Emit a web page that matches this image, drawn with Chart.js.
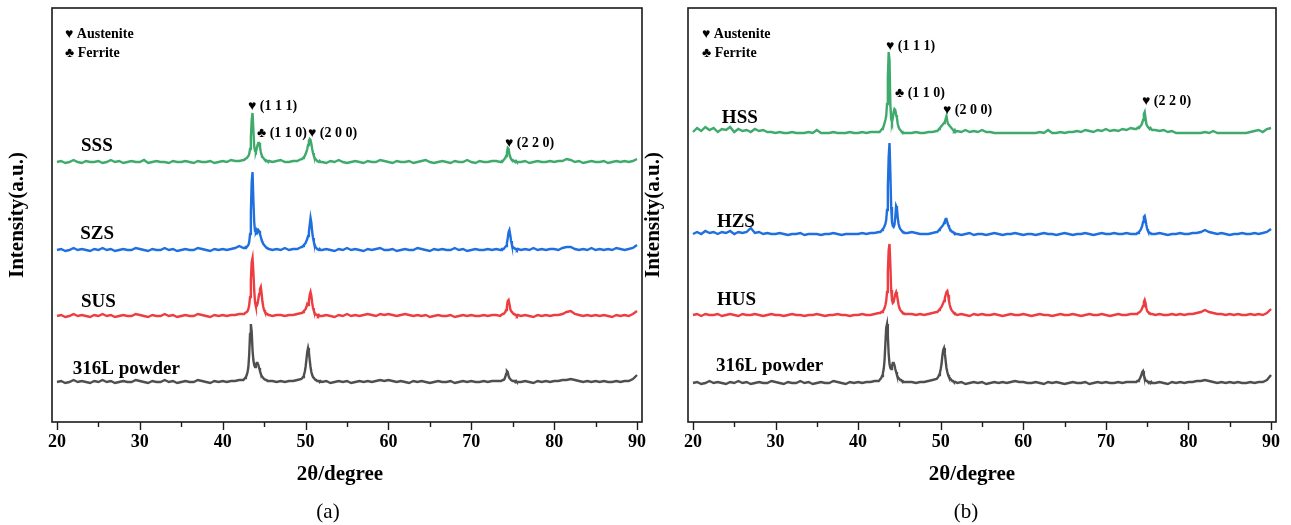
<!DOCTYPE html>
<html><head><meta charset="utf-8">
<script src="https://cdn.jsdelivr.net/npm/chart.js@4.4.1/dist/chart.umd.min.js"></script>
<style>
html,body{margin:0;padding:0;background:#fff;}
#wrap{position:relative;width:1291px;height:525px;overflow:hidden;background:#fff;}
canvas{position:absolute;top:0;}
#ca{left:0;}
#cb{left:636px;}
</style></head><body>
<div id="wrap"><canvas id="ca" width="660" height="525"></canvas><canvas id="cb" width="655" height="525"></canvas></div>
<script>
// 2θ sampling positions (degrees)
const twoTheta = [
20,20.5,21,21.5,22,22.5,23,23.5,24,24.5,25,25.5,26,26.5,27,27.5,28,28.5,29,29.5,30,30.5,31,31.5,32,32.5,33,33.5,34,34.5,35,35.5,36,36.5,37,37.5,38,38.5,39,39.5,40,40.5,41,41.5,42,42.5,
42.6,42.7,42.8,42.9,43.0,43.1,43.2,43.3,43.4,43.5,43.6,43.7,43.8,43.9,44.0,44.1,44.2,44.3,44.4,44.5,44.6,44.7,44.8,44.9,45.0,45.1,45.2,45.3,45.4,45.5,45.6,
46,46.5,47,47.5,48,48.5,49,49.5,
49.6,49.7,49.8,49.9,50.0,50.1,50.2,50.3,50.4,50.5,50.6,50.7,50.8,50.9,51.0,51.1,51.2,51.3,51.4,51.5,51.6,51.7,51.8,
52,52.5,53,53.5,54,54.5,55,55.5,56,56.5,57,57.5,58,58.5,59,59.5,60,60.5,61,61.5,62,62.5,63,63.5,64,64.5,65,65.5,66,66.5,67,67.5,68,68.5,69,69.5,70,70.5,71,71.5,72,72.5,73,73.5,
73.6,73.7,73.8,73.9,74.0,74.1,74.2,74.3,74.4,74.5,74.6,74.7,74.8,74.9,75.0,75.1,75.2,75.3,75.4,75.5,75.6,
76,76.5,77,77.5,78,78.5,79,79.5,80,80.5,81,81.5,82,82.5,83,83.5,84,84.5,85,85.5,86,86.5,87,87.5,88,88.5,89,89.5,90
];
const xTicks = [20,25,30,35,40,45,50,55,60,65,70,75,80,85,90];

// ---- panel (a): stacked intensities (a.u.) ----
const sss = [
260,261,259,260,262,260,259,261,260,260,261,259,260,262,260,261,259,260,261,260,260,262,259,260,261,260,260,259,261,260,260,261,260,259,261,260,260,261,259,260,261,260,262,261,261,262,
262,263,263,264,265,266,268,273,285,302,309,292,276,271,270,273,277,279,279,275,270,267,265,264,263,262,262,261,261,260,261,
260,261,262,260,260,261,261,263,
263,264,265,266,268,270,273,277,281,283,282,278,273,269,266,264,263,262,261,261,260,261,260,
260,259,261,260,262,260,259,260,261,260,259,261,260,260,262,261,260,259,261,260,260,261,259,260,261,262,260,259,260,261,260,259,261,260,260,262,260,259,261,260,260,261,261,260,
260,261,261,262,263,264,266,270,274,273,268,265,263,262,262,261,261,260,261,260,260,
260,261,259,260,261,260,260,261,260,261,261,263,262,260,261,259,260,261,260,260,261,259,260,261,260,261,260,261,263
];
const szs = [
172,173,171,172,174,172,173,172,171,173,172,174,172,173,171,172,173,172,172,174,173,172,171,173,172,172,174,172,173,171,172,173,172,172,174,173,172,171,173,172,173,172,173,174,176,174,
174,174,175,175,176,177,180,188,210,240,250,222,200,191,190,192,190,192,191,188,185,182,180,178,177,176,175,174,174,173,173,
172,173,172,174,172,173,173,175,
175,176,177,178,179,181,183,186,190,197,204,199,190,184,180,177,175,174,173,173,172,173,172,
172,173,172,171,173,172,174,172,173,172,171,173,172,173,174,172,172,173,171,172,173,172,172,174,173,172,171,173,172,173,172,172,174,172,173,171,172,173,172,172,173,172,173,172,
172,173,173,173,174,175,176,179,184,190,192,187,181,177,175,174,174,173,173,172,173,
172,173,172,174,172,173,172,173,173,172,174,175,175,173,172,173,172,174,172,173,172,173,172,174,173,172,173,174,177
];
const sus = [
106,107,105,106,108,106,107,106,105,107,106,108,106,107,105,106,107,106,106,108,107,106,105,107,106,106,108,106,107,105,106,107,106,106,108,107,106,105,107,106,107,106,107,107,108,108,
108,109,109,110,111,113,117,125,142,160,164,150,132,120,116,116,118,123,128,133,135,128,120,115,112,110,109,108,108,107,107,
106,107,107,106,107,107,108,109,
109,110,111,112,113,115,118,117,121,127,130,126,119,114,111,109,108,107,107,106,107,106,106,
106,107,106,105,107,106,108,106,107,106,107,108,107,106,108,107,108,107,106,107,108,107,106,107,106,107,105,106,107,106,106,107,105,106,107,106,107,106,106,107,106,107,107,106,
107,107,108,108,109,110,112,116,121,122,118,113,111,110,109,108,108,107,107,106,107,
106,107,106,105,107,106,107,106,107,107,108,110,111,108,107,106,107,106,107,106,107,106,105,107,106,107,106,108,111
];
const powderA = [
40,41,39,40,42,40,41,40,39,41,40,42,40,41,39,40,41,40,40,42,41,40,39,41,40,40,42,40,41,39,40,41,40,40,42,41,40,39,41,40,41,40,41,41,42,42,
43,44,45,47,50,55,68,88,98,90,72,62,57,55,57,59,59,57,54,51,48,46,45,44,43,43,42,42,41,41,41,
41,40,41,40,41,41,42,43,
44,45,47,50,55,62,70,74,70,62,55,50,47,45,44,43,42,42,41,41,41,40,41,
40,41,39,40,41,40,41,39,40,41,40,41,40,41,42,41,42,41,40,41,40,39,41,40,41,40,39,40,41,40,40,41,39,40,41,40,41,40,40,41,40,41,41,41,
41,41,42,42,43,45,48,51,50,46,44,43,42,42,41,41,41,40,41,40,40,
40,41,40,39,41,40,41,40,41,41,42,42,43,42,41,40,41,40,41,40,41,40,40,41,40,41,41,43,47
];

// ---- panel (b) ----
const hss = [
290,294,291,295,292,294,290,293,292,295,290,293,291,292,290,293,291,292,290,290,289,290,289,289,290,289,289,289,290,289,292,289,289,289,290,289,289,289,290,289,289,290,289,290,290,290,
290,291,292,293,294,296,299,302,306,318,345,370,362,318,303,300,304,310,313,312,307,304,298,295,293,292,291,290,290,289,289,
289,289,290,289,289,290,290,291,
291,292,293,294,295,296,297,298,299,300,303,306,301,298,297,296,295,294,293,292,291,292,290,
291,290,292,290,291,290,292,290,290,289,289,289,289,289,289,289,289,289,289,289,290,289,292,289,289,290,289,290,290,291,290,292,291,290,292,291,293,291,292,291,293,292,294,293,
293,293,294,294,295,295,296,297,299,302,308,310,304,298,296,295,294,293,294,293,292,
292,291,292,290,291,289,289,289,289,289,289,289,290,289,291,289,289,289,289,289,289,289,289,290,291,292,290,293,294
];
const hzs = [
188,190,188,191,189,190,188,190,189,191,188,190,189,190,194,189,190,188,189,188,188,189,188,187,188,188,189,187,188,188,188,187,188,188,189,188,187,188,188,188,188,189,188,189,189,190,
190,190,191,192,193,194,196,198,202,212,235,265,279,250,215,200,196,195,197,205,216,214,204,198,195,193,192,191,190,190,189,
189,190,189,188,188,188,189,190,
190,191,192,193,194,195,196,197,199,201,203,203,200,197,195,193,192,191,190,190,189,189,188,
188,187,188,189,187,188,188,187,188,189,188,187,188,188,189,188,187,188,188,187,188,189,188,188,187,188,189,188,187,188,188,189,188,187,188,189,188,188,189,188,188,189,188,188,
188,188,189,189,190,191,192,194,196,200,205,206,202,197,193,191,190,189,189,188,188,
188,189,188,187,188,188,189,188,188,189,189,190,192,190,189,188,189,188,187,188,188,189,188,188,189,188,189,190,193
];
const hus = [
107,108,106,108,107,107,108,106,107,108,107,106,108,107,107,108,107,106,107,108,107,107,106,107,108,107,107,106,107,107,108,107,106,107,107,108,107,107,106,107,107,108,107,107,108,109,
109,109,110,110,111,112,114,117,121,130,150,172,178,158,132,122,119,120,124,128,130,127,122,117,114,112,111,110,109,109,108,
108,108,107,108,107,108,109,110,
110,111,112,113,114,115,117,119,121,124,127,130,131,127,121,117,114,112,111,110,109,109,108,
107,108,107,106,108,107,108,107,107,108,107,106,107,108,107,107,108,107,106,107,108,107,107,106,107,108,107,107,108,107,106,107,108,107,107,108,107,106,107,108,107,107,108,108,
108,108,108,109,109,110,111,112,114,116,120,122,119,114,111,110,109,109,108,108,108,
107,108,107,107,108,107,108,107,108,108,109,110,112,110,109,108,108,107,108,107,108,107,107,108,107,108,107,109,113
];
const powderB = [
39,40,38,39,41,39,40,39,38,40,39,41,39,40,38,39,40,39,39,41,40,39,38,40,39,39,41,39,40,38,39,40,39,39,41,40,39,38,40,39,40,39,40,40,41,41,
42,43,44,46,49,53,62,78,94,98,86,68,58,54,53,56,59,59,57,53,50,47,45,44,43,42,42,41,41,40,40,
40,40,39,40,40,41,42,43,
44,45,47,49,53,58,66,72,74,69,61,54,50,47,45,44,43,42,41,41,40,40,40,
39,40,38,39,40,39,40,38,39,40,39,40,39,40,41,40,40,39,39,40,39,38,40,39,40,39,38,39,40,39,39,40,38,39,40,39,40,39,39,40,39,40,40,40,
40,40,41,41,42,43,45,47,50,51,47,44,42,41,41,40,40,40,39,40,39,
39,40,39,38,40,39,40,39,40,40,41,41,42,41,40,39,40,39,40,39,40,39,39,40,39,40,40,42,47
];

const seriesColors = ['#3eaa6c', '#1f6fde', '#ee3d40', '#4f4f4f'];
const phaseLegend = ['\u2665 Austenite', '\u2663 Ferrite'];

// annotation layouts (data coordinates)
const annA = {
  legend: [{x: 20.97, y: 388}, {x: 20.97, y: 369}],
  samples: [{t: 'SSS', x: 22.9, y: 276}, {t: 'SZS', x: 22.8, y: 188}, {t: 'SUS', x: 22.9, y: 120}, {t: '316L powder', x: 21.9, y: 53}],
  peaks: [{t: '\u2665 (1 1 1)', x: 43.05, y: 316}, {t: '\u2663 (1 1 0)', x: 44.14, y: 289}, {t: '\u2665 (2 0 0)', x: 50.29, y: 289}, {t: '\u2665 (2 2 0)', x: 74.07, y: 279}],
  caption: '(a)', titleShift: -7, captionShift: -19
};
const annB = {
  legend: [{x: 21.09, y: 388}, {x: 21.09, y: 369}],
  samples: [{t: 'HSS', x: 23.5, y: 304}, {t: 'HZS', x: 22.9, y: 200}, {t: 'HUS', x: 22.9, y: 122}, {t: '316L powder', x: 22.8, y: 56}],
  peaks: [{t: '\u2665 (1 1 1)', x: 43.37, y: 376}, {t: '\u2663 (1 1 0)', x: 44.46, y: 329}, {t: '\u2665 (2 0 0)', x: 50.28, y: 312}, {t: '\u2665 (2 2 0)', x: 74.38, y: 321}],
  caption: '(b)', titleShift: -10, captionShift: -16
};

const SERIF = '"Liberation Serif", "Times New Roman", "DejaVu Sans", serif';

const decoPlugin = {
  id: 'deco',
  afterDraw(chart) {
    const ann = chart.options.plugins.deco.ann;
    const ctx = chart.ctx;
    const xs = chart.scales.x, ys = chart.scales.y;
    const ca = chart.chartArea;
    ctx.save();
    // frame
    ctx.strokeStyle = '#1a1a1a';
    ctx.lineWidth = 1.6;
    ctx.strokeRect(ca.left, ca.top, ca.right - ca.left, ca.bottom - ca.top);
    // tick marks (outside, bottom)
    ctx.lineWidth = 1.4;
    xTicks.forEach(v => {
      const px = Math.round(xs.getPixelForValue(v)) + 0.5;
      const len = v % 10 === 0 ? 8 : 5;
      ctx.beginPath();
      ctx.moveTo(px, ca.bottom);
      ctx.lineTo(px, ca.bottom + len);
      ctx.stroke();
    });
    ctx.fillStyle = '#000';
    ctx.textBaseline = 'middle';
    ctx.textAlign = 'left';
    // phase legend
    ctx.font = 'bold 14px ' + SERIF;
    phaseLegend.forEach((t, i) => {
      ctx.fillText(t, xs.getPixelForValue(ann.legend[i].x), ys.getPixelForValue(ann.legend[i].y));
    });
    // peak labels
    ann.peaks.forEach(p => ctx.fillText(p.t, xs.getPixelForValue(p.x), ys.getPixelForValue(p.y)));
    // sample names
    ctx.font = 'bold 19px ' + SERIF;
    ann.samples.forEach(p => ctx.fillText(p.t, xs.getPixelForValue(p.x), ys.getPixelForValue(p.y)));
    // axis title and caption
    const cx = (ca.left + ca.right) / 2;
    ctx.textAlign = 'center';
    ctx.font = 'bold 21px ' + SERIF;
    ctx.fillText('2\u03b8/degree', cx + ann.titleShift, 475);
    ctx.font = '21px ' + SERIF;
    ctx.fillText(ann.caption, cx + ann.captionShift, 512);
    ctx.restore();
  }
};

function makeChart(id, seriesList, names, ann, padRight) {
  const datasets = seriesList.map((s, k) => ({
    label: names[k],
    data: twoTheta.map((a, i) => ({x: a, y: s[i]})),
    borderColor: seriesColors[k],
    borderWidth: 2.4,
    pointRadius: 0,
    tension: 0,
    fill: false
  }));
  return new Chart(document.getElementById(id), {
    type: 'line',
    data: {datasets},
    plugins: [decoPlugin],
    options: {
      responsive: false,
      animation: false,
      events: [],
      layout: {padding: {left: 0, top: 8, right: padRight, bottom: 0}},
      plugins: {legend: {display: false}, tooltip: {enabled: false}, deco: {ann}},
      scales: {
        x: {
          type: 'linear', min: 19.4, max: 90.6,
          afterBuildTicks: sc => { sc.ticks = xTicks.map(v => ({value: v})); },
          afterFit: sc => { sc.height = 103; },
          grid: {display: false, drawTicks: false},
          border: {display: false},
          ticks: {
            autoSkip: false, maxRotation: 0, padding: 10, color: '#000',
            font: {family: SERIF, size: 18, weight: 'bold'},
            callback: v => (v % 10 === 0 ? String(v) : '')
          }
        },
        y: {
          type: 'linear', min: 0, max: 414,
          afterFit: sc => { sc.width = 52; },
          grid: {display: false, drawTicks: false},
          border: {display: false},
          ticks: {display: false},
          title: {display: true, text: 'Intensity(a.u.)', color: '#000', padding: {top: 5, bottom: 0},
                  font: {family: SERIF, size: 21, weight: 'bold'}}
        }
      }
    }
  });
}

makeChart('ca', [sss, szs, sus, powderA], ['SSS', 'SZS', 'SUS', '316L powder'], annA, 18);
makeChart('cb', [hss, hzs, hus, powderB], ['HSS', 'HZS', 'HUS', '316L powder'], annB, 15);
</script>
</body></html>
